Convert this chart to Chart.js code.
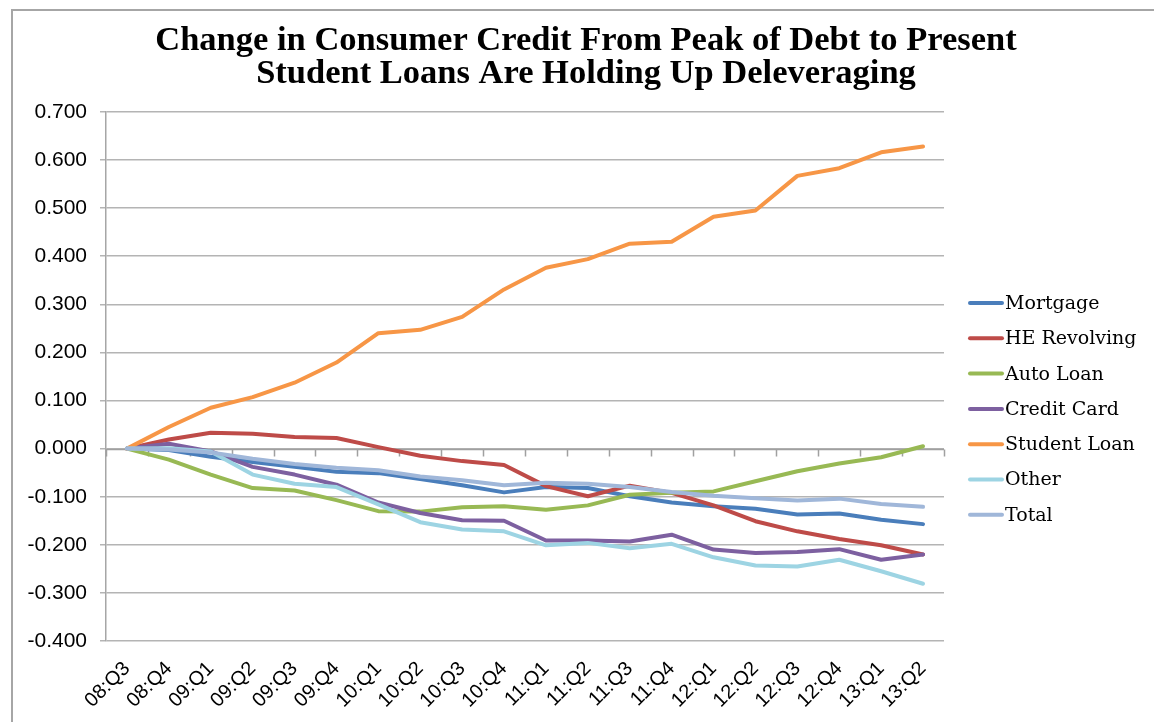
<!DOCTYPE html>
<html>
<head>
<meta charset="utf-8">
<script src="https://cdn.jsdelivr.net/npm/chart.js@4.4.1/dist/chart.umd.min.js"></script>
<style>
  html, body { margin: 0; padding: 0; background: #fff; }
  #wrap { position: relative; width: 1154px; height: 722px; }
  #frame { position: absolute; left: 11px; top: 9px; right: -4px; bottom: -4px; border: 2px solid #a6a6a6; pointer-events: none; }
</style>
</head>
<body>
<div id="wrap">
  <canvas id="creditChart" width="1154" height="722"></canvas>
  <div id="frame"></div>
</div>
<script>
const quarters = ['08:Q3', '08:Q4', '09:Q1', '09:Q2', '09:Q3', '09:Q4', '10:Q1', '10:Q2', '10:Q3', '10:Q4',
  '11:Q1', '11:Q2', '11:Q3', '11:Q4', '12:Q1', '12:Q2', '12:Q3', '12:Q4', '13:Q1', '13:Q2'];

const mortgage = [0, -0.003, -0.017, -0.028, -0.038, -0.048, -0.051, -0.063, -0.076, -0.091,
  -0.080, -0.082, -0.099, -0.112, -0.120, -0.125, -0.137, -0.135, -0.148, -0.157];
const heRevolving = [0, 0.019, 0.033, 0.031, 0.024, 0.022, 0.003, -0.015, -0.026, -0.034,
  -0.078, -0.099, -0.077, -0.092, -0.118, -0.151, -0.172, -0.188, -0.201, -0.220];
const autoLoan = [0, -0.023, -0.054, -0.082, -0.087, -0.107, -0.130, -0.131, -0.122, -0.120,
  -0.127, -0.118, -0.096, -0.092, -0.089, -0.068, -0.047, -0.031, -0.018, 0.005];
const creditCard = [0, 0.010, -0.006, -0.038, -0.054, -0.075, -0.112, -0.134, -0.149, -0.150,
  -0.191, -0.191, -0.193, -0.179, -0.210, -0.217, -0.215, -0.209, -0.231, -0.220];
const studentLoan = [0, 0.045, 0.085, 0.107, 0.137, 0.179, 0.240, 0.247, 0.274, 0.331,
  0.376, 0.394, 0.426, 0.430, 0.482, 0.495, 0.567, 0.583, 0.616, 0.628];
const other = [0, 0.001, -0.006, -0.054, -0.073, -0.080, -0.116, -0.153, -0.168, -0.172,
  -0.201, -0.196, -0.207, -0.198, -0.226, -0.243, -0.245, -0.231, -0.255, -0.281];
const total = [0, -0.002, -0.008, -0.021, -0.032, -0.040, -0.045, -0.058, -0.066, -0.076,
  -0.071, -0.073, -0.080, -0.090, -0.098, -0.103, -0.108, -0.104, -0.115, -0.121];

const seriesNames = ['Mortgage', 'HE Revolving', 'Auto Loan', 'Credit Card', 'Student Loan', 'Other', 'Total'];
const seriesData = [mortgage, heRevolving, autoLoan, creditCard, studentLoan, other, total];
const seriesColors = ['#4a7ebb', '#be4b48', '#98b954', '#7d60a0', '#f79646', '#9dd4e3', '#a0b7d9'];

const titleLines = ['Change in Consumer Credit From Peak of Debt to Present',
  'Student Loans Are Holding Up Deleveraging'];

// legend drawn at the right, like the spreadsheet one (line sample + serif text)
const sideLegend = {
  id: 'sideLegend',
  afterDraw(chart) {
    const ctx = chart.ctx;
    ctx.save();
    ctx.font = '19px "DejaVu Serif", serif';
    ctx.textBaseline = 'middle';
    ctx.fillStyle = '#000';
    chart.data.datasets.forEach((ds, i) => {
      const y = 303 + i * 35.3;
      ctx.strokeStyle = ds.borderColor;
      ctx.lineWidth = 4;
      ctx.lineCap = 'round';
      ctx.beginPath();
      ctx.moveTo(970, y);
      ctx.lineTo(1002, y);
      ctx.stroke();
      ctx.fillText(ds.label, 1005, y + 1);
    });
    ctx.restore();
  }
};

// category axis crosses at zero: line with small ticks between the quarters
const zeroAxis = {
  id: 'zeroAxis',
  beforeDatasetsDraw(chart) {
    const { ctx, scales: { x, y } } = chart;
    const y0 = Math.round(y.getPixelForValue(0)) + 0.5;
    const step = x.getPixelForValue(1) - x.getPixelForValue(0);
    ctx.save();
    ctx.strokeStyle = '#a0a0a0';
    ctx.lineWidth = 1.5;
    ctx.beginPath();
    ctx.moveTo(x.left, y0);
    ctx.lineTo(x.right, y0);
    for (let i = 0; i <= quarters.length; i++) {
      const px = Math.round(x.getPixelForValue(0) - step / 2 + i * step) + 0.5;
      ctx.moveTo(px, y0);
      ctx.lineTo(px, y0 + 7);
    }
    ctx.stroke();
    ctx.restore();
  }
};

Chart.defaults.font.family = '"Liberation Sans", Arial, sans-serif';
Chart.defaults.color = '#000';

new Chart(document.getElementById('creditChart'), {
  type: 'line',
  data: {
    labels: quarters,
    datasets: seriesNames.map((name, i) => ({
      label: name,
      data: seriesData[i],
      borderColor: seriesColors[i],
      backgroundColor: seriesColors[i],
      borderWidth: 4,
      borderCapStyle: 'round',
      borderJoinStyle: 'round',
      pointRadius: 0,
      tension: 0,
      order: seriesNames.length - i
    }))
  },
  options: {
    responsive: false,
    animation: false,
    layout: { padding: { top: 24, left: 18, right: 0, bottom: 0 } },
    plugins: {
      legend: { display: false },
      tooltip: { enabled: false },
      title: {
        display: true,
        text: titleLines,
        color: '#000',
        font: { family: '"Liberation Serif", "Times New Roman", serif', size: 34.5, weight: 'bold', lineHeight: 0.97 },
        padding: { top: 0, bottom: 21 }
      }
    },
    scales: {
      x: {
        offset: true,
        grid: { display: false },
        border: { display: false },
        ticks: { font: { size: 20 }, minRotation: 45, maxRotation: 45, padding: 8, autoSkip: false },
        afterFit(scale) { scale.height = 81; }
      },
      y: {
        min: -0.4,
        max: 0.7,
        ticks: {
          stepSize: 0.1,
          font: { size: 21 },
          padding: 13,
          callback: v => (Math.abs(v) < 1e-9 ? 0 : v).toFixed(3)
        },
        grid: { color: '#b4b4b4', lineWidth: 1.5, tickLength: 6 },
        border: { display: true, color: '#a6a6a6', width: 1.5 },
        afterFit(scale) { scale.width = 88; }
      },
      // empty right-hand axis that only reserves the legend column
      legendSpace: {
        type: 'linear',
        position: 'right',
        display: true,
        grid: { display: false, drawTicks: false },
        border: { display: false },
        ticks: { display: false },
        afterFit(scale) { scale.width = 210; }
      }
    }
  },
  plugins: [zeroAxis, sideLegend]
});
</script>
</body>
</html>
